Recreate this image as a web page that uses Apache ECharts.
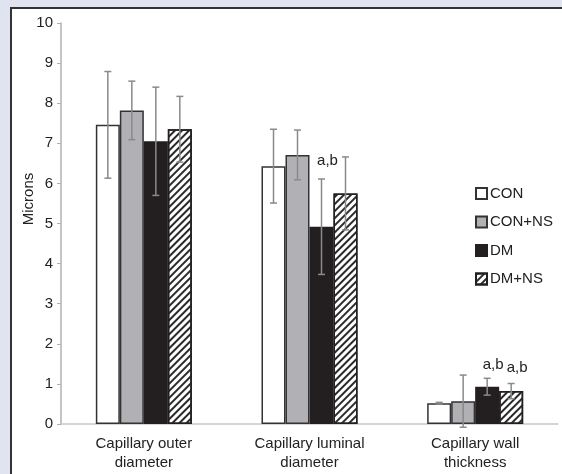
<!DOCTYPE html>
<html><head><meta charset="utf-8">
<script src="https://cdn.jsdelivr.net/npm/echarts@6/dist/echarts.min.js"></script>
<style>html,body{margin:0;padding:0;background:#e0e4f1;}#c{width:562px;height:474px;}</style>
</head><body><div id="c"></div>
<script>
var categories = ['Capillary outer\ndiameter', 'Capillary luminal\ndiameter', 'Capillary wall\nthickness'];
var groups = ['CON', 'CON+NS', 'DM', 'DM+NS'];
var conMean = [7.46, 6.43, 0.52];
var conNsMean = [7.82, 6.71, 0.57];
var dmMean = [7.05, 4.92, 0.93];
var dmNsMean = [7.35, 5.75, 0.82];
var conErr = [1.33, 0.92, 0.02];
var conNsErr = [0.73, 0.62, 0.65];
var dmErr = [1.35, 1.19, 0.21];
var dmNsErr = [0.82, 0.91, 0.19];
var yTicks = [0, 1, 2, 3, 4, 5, 6, 7, 8, 9, 10];
// [category index, bar index, y value, text]
var annotations = [[1, 2, 6.38, 'a,b'], [2, 2, 1.3, 'a,b'], [2, 3, 1.22, 'a,b']];

var means = [conMean, conNsMean, dmMean, dmNsMean];
var errs = [conErr, conNsErr, dmErr, dmNsErr];
var BAR_W = 24;
var FONT = 'Liberation Sans, Arial, sans-serif';

var styles = [
  {color: '#ffffff', borderColor: '#333333', borderWidth: 1.5},
  {color: '#b1b1b5', borderColor: '#333333', borderWidth: 1.5},
  {color: '#231f20', borderColor: '#231f20', borderWidth: 1.5},
  {color: '#ffffff', borderColor: '#231f20', borderWidth: 1.5,
   decal: {symbol: 'rect', dashArrayX: [1, 0], dashArrayY: [1.7, 2.5], rotation: -Math.PI / 4, color: '#2a2a2a', symbolSize: 1}}
];

var series = groups.map(function (g, i) {
  return {
    name: g, type: 'bar', barWidth: BAR_W, barGap: '0%',
    data: means[i], itemStyle: styles[i], z: 2
  };
});

var errData = [];
for (var i = 0; i < 4; i++) {
  for (var c = 0; c < categories.length; c++) {
    errData.push([c, i, means[i][c] - errs[i][c], means[i][c] + errs[i][c]]);
  }
}
series.push({
  type: 'custom', name: 'err', z: 5, silent: true,
  data: errData,
  renderItem: function (params, api) {
    var c = api.value(0), b = api.value(1);
    var lo = api.coord([c, api.value(2)]);
    var hi = api.coord([c, api.value(3)]);
    var x = lo[0] + (b - 1.5) * BAR_W;
    var st = {stroke: '#8a8a8a', lineWidth: 1.5};
    return {type: 'group', children: [
      {type: 'line', shape: {x1: x, y1: lo[1], x2: x, y2: hi[1]}, style: st},
      {type: 'line', shape: {x1: x - 3.5, y1: lo[1], x2: x + 3.5, y2: lo[1]}, style: st},
      {type: 'line', shape: {x1: x - 3.5, y1: hi[1], x2: x + 3.5, y2: hi[1]}, style: st}
    ]};
  }
});
series.push({
  type: 'custom', name: 'ann', z: 6, silent: true,
  data: annotations,
  renderItem: function (params, api) {
    var c = api.value(0), b = api.value(1);
    var p = api.coord([c, api.value(2)]);
    var x = p[0] + (b - 1.5) * BAR_W + 6;
    return {type: 'text', style: {x: x, y: p[1], text: annotations[params.dataIndex][3],
      fill: '#222', font: '15px ' + FONT, textAlign: 'center', textVerticalAlign: 'bottom'}};
  }
});

var chart = echarts.init(document.getElementById('c'), null, {renderer: 'canvas'});
chart.setOption({
  backgroundColor: '#e0e4f1',
  animation: false,
  graphic: [
    {type: 'rect', shape: {x: 11, y: 8, width: 560, height: 480}, style: {fill: '#ffffff', stroke: '#333333', lineWidth: 2}, z: -10},
    {type: 'text', x: 29, y: 199, rotation: Math.PI / 2, style: {text: 'Microns', fill: '#222', font: '15px ' + FONT, textAlign: 'center', textVerticalAlign: 'middle'}}
  ],
  grid: {left: 61, right: 4, top: 23, bottom: 50},
  legend: {
    data: groups, orient: 'vertical', left: 470, top: 181,
    itemWidth: 11, itemHeight: 11, itemGap: 13.5,
    icon: 'rect',
    textStyle: {fontSize: 15, color: '#222', fontFamily: FONT, padding: [0, 0, 0, -2]}
  },
  xAxis: {
    type: 'category', data: categories,
    axisLine: {lineStyle: {color: '#c8c8c8', width: 1.5}},
    axisTick: {show: false},
    axisLabel: {fontSize: 15, color: '#222', fontFamily: FONT, lineHeight: 19, margin: 10}
  },
  yAxis: {
    type: 'value', min: 0, max: 10, interval: 1,
    axisLine: {show: true, lineStyle: {color: '#b0b0b0', width: 1.5}},
    axisTick: {show: true, length: 4, lineStyle: {color: '#b0b0b0'}},
    splitLine: {show: false},
    axisLabel: {fontSize: 15, color: '#222', fontFamily: FONT, margin: 8,
      formatter: function (v) { return yTicks.indexOf(v) >= 0 ? String(v) : ''; }}
  },
  series: series
});
</script></body></html>
